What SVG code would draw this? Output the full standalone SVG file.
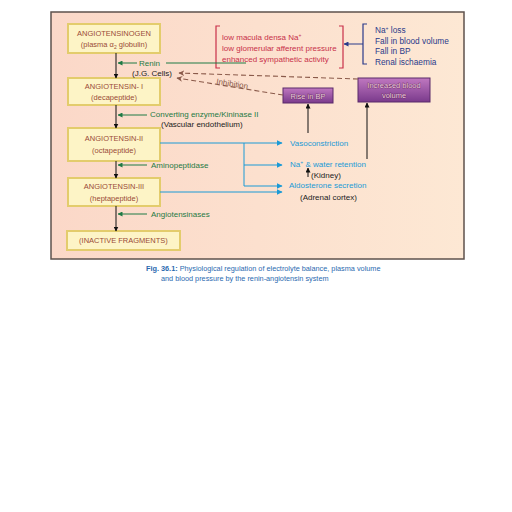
<svg xmlns="http://www.w3.org/2000/svg" width="512" height="512" viewBox="0 0 512 512">
<defs>
<linearGradient id="bg" x1="0" y1="0" x2="1" y2="0">
<stop offset="0" stop-color="#fbd8c8"/>
<stop offset="1" stop-color="#fde8d4"/>
</linearGradient>
<linearGradient id="pur" x1="0" y1="0" x2="0" y2="1">
<stop offset="0" stop-color="#c078c0"/>
<stop offset="1" stop-color="#7a3a8c"/>
</linearGradient>
<marker id="ak" viewBox="0 0 10 10" refX="9" refY="5" markerWidth="5" markerHeight="5" orient="auto-start-reverse" markerUnits="userSpaceOnUse"><path d="M0,0 L10,5 L0,10 z" fill="#111"/></marker>
<marker id="ag" viewBox="0 0 10 10" refX="9" refY="5" markerWidth="5" markerHeight="5" orient="auto" markerUnits="userSpaceOnUse"><path d="M0,0 L10,5 L0,10 z" fill="#1e7a44"/></marker>
<marker id="ab" viewBox="0 0 10 10" refX="9" refY="5" markerWidth="6" markerHeight="6" orient="auto" markerUnits="userSpaceOnUse"><path d="M0,0 L10,5 L0,10 z" fill="#1a9ad6"/></marker>
<marker id="an" viewBox="0 0 10 10" refX="9" refY="5" markerWidth="5" markerHeight="5" orient="auto" markerUnits="userSpaceOnUse"><path d="M0,0 L10,5 L0,10 z" fill="#2a3a8a"/></marker>
<marker id="ad" viewBox="0 0 10 10" refX="9" refY="5" markerWidth="6" markerHeight="6" orient="auto" markerUnits="userSpaceOnUse"><path d="M0,0 L10,5 L0,10 L3,5 z" fill="#8a5a4a"/></marker>
</defs>
<style>
text{font-family:"Liberation Sans",Arial,sans-serif;font-size:8px}
.box{fill:#fdf4c6;stroke:#e3cc6c;stroke-width:2}
.bt{fill:#9a4b38;text-anchor:middle;font-size:7.5px}
.g{fill:#1e7a44}
.k{fill:#222}
.r{fill:#c8304a}
.n{fill:#2a3a8a;font-size:8.3px}
.b{fill:#1a9ad6}
.pb{fill:url(#pur);stroke:#5a2a6a;stroke-width:1}
.pt{fill:#f6d6e6;stroke:#5a1f50;stroke-width:0.7;paint-order:stroke;text-anchor:middle;font-size:7.5px}
.cap{fill:#2a6ab0;font-size:7.3px}
</style>
<rect x="51" y="12" width="413" height="247" fill="url(#bg)" stroke="#5e524c" stroke-width="1.5"/>

<g id="angiotensinogen"><rect class="box" x="68" y="24" width="92" height="29"/><text class="bt" x="114" y="36">ANGIOTENSINOGEN</text><text class="bt" x="114" y="47">(plasma α<tspan font-size="5" dy="2">2</tspan><tspan dy="-2"> globulin)</tspan></text></g>
<g id="angiotensin1"><rect class="box" x="68" y="78" width="92" height="27"/><text class="bt" x="114" y="89">ANGIOTENSIN- I</text><text class="bt" x="114" y="100">(decapeptide)</text></g>
<g id="angiotensin2"><rect class="box" x="68" y="128" width="92" height="33"/><text class="bt" x="114" y="141">ANGIOTENSIN-II</text><text class="bt" x="114" y="153">(octapeptide)</text></g>
<g id="angiotensin3"><rect class="box" x="68" y="178" width="92" height="28"/><text class="bt" x="114" y="189">ANGIOTENSIN-III</text><text class="bt" x="114" y="201">(heptapeptide)</text></g>
<g id="inactive"><rect class="box" x="67" y="231" width="113" height="19"/><text class="bt" x="123.5" y="243">(INACTIVE FRAGMENTS)</text></g>

<g id="rise-bp"><rect class="pb" x="283" y="88" width="50" height="15"/><text class="pt" x="308" y="98.5">Rise in BP</text></g>
<g id="blood-volume"><rect class="pb" x="358" y="78" width="72" height="24"/><text class="pt" x="394" y="88">Increased blood</text><text class="pt" x="394" y="98">volume</text></g>

<g id="stimuli">
<text class="r" x="222" y="40">low macula densa Na<tspan font-size="5" dy="-3">+</tspan></text>
<text class="r" x="222" y="51">low glomerular afferent pressure</text>
<text class="r" x="222" y="62">enhanced sympathetic activity</text>
<path d="M220,26 H216 V68 H220 M339,26 H343 V68 H339" fill="none" stroke="#c8304a" stroke-width="1.2"/>
</g>
<g id="causes">
<text class="n" x="375" y="33">Na<tspan font-size="5" dy="-3">+</tspan><tspan dy="3"> loss</tspan></text>
<text class="n" x="375" y="44">Fall in blood volume</text>
<text class="n" x="375" y="54">Fall in BP</text>
<text class="n" x="375" y="65">Renal ischaemia</text>
<path d="M367,24 H363 V64 H367" fill="none" stroke="#2a3a8a" stroke-width="1.2"/>
</g>

<g id="labels">
<text class="g" x="139" y="66">Renin</text>
<text class="k" x="132" y="76">(J.G. Cells)</text>
<text class="g" x="150" y="117">Converting enzyme/Kininase II</text>
<text class="k" x="161" y="127">(Vascular endothelium)</text>
<text class="g" x="151" y="168">Aminopeptidase</text>
<text class="g" x="151" y="217">Angiotensinases</text>
<text class="b" x="290" y="146">Vasoconstriction</text>
<text class="b" x="290" y="167">Na<tspan font-size="5" dy="-3">+</tspan><tspan dy="3"> &amp; water retention</tspan></text>
<text class="k" x="311" y="178">(Kidney)</text>
<text class="b" x="289" y="188">Aldosterone secretion</text>
<text class="k" x="300" y="200">(Adrenal cortex)</text>
<text fill="#8a5a4a" font-size="7.3" transform="translate(216,84) rotate(9)">Inhibition</text>
</g>

<g id="connectors" fill="none">
<path d="M116,53 V78" stroke="#111" stroke-width="1" marker-end="url(#ak)"/>
<path d="M116,105 V128" stroke="#111" stroke-width="1" marker-end="url(#ak)"/>
<path d="M116,161 V178" stroke="#111" stroke-width="1" marker-end="url(#ak)"/>
<path d="M116,206 V231" stroke="#111" stroke-width="1" marker-end="url(#ak)"/>
<path d="M137,63 H118" stroke="#1e7a44" stroke-width="1" marker-end="url(#ag)"/>
<path d="M166,63 H246" stroke="#1e7a44" stroke-width="1"/>
<path d="M147,115 H118" stroke="#1e7a44" stroke-width="1" marker-end="url(#ag)"/>
<path d="M147,165 H118" stroke="#1e7a44" stroke-width="1" marker-end="url(#ag)"/>
<path d="M147,214 H118" stroke="#1e7a44" stroke-width="1" marker-end="url(#ag)"/>
<path d="M363,44 H344" stroke="#2a3a8a" stroke-width="1" marker-end="url(#an)"/>
<path d="M358,79 L179,73" stroke="#8a5a4a" stroke-width="1.1" stroke-dasharray="5,3" marker-end="url(#ad)"/>
<path d="M283,95 L177,78" stroke="#8a5a4a" stroke-width="1.1" stroke-dasharray="5,3" marker-end="url(#ad)"/>
<path d="M308,133 V104" stroke="#111" stroke-width="1" marker-end="url(#ak)"/>
<path d="M367,159 V103" stroke="#111" stroke-width="1" marker-end="url(#ak)"/>
<path d="M308,177 V168" stroke="#111" stroke-width="1" marker-end="url(#ak)"/>
<path d="M160,143 H282" stroke="#1a9ad6" stroke-width="1" marker-end="url(#ab)"/>
<path d="M244,143 V186 H282" stroke="#1a9ad6" stroke-width="1" marker-end="url(#ab)"/>
<path d="M244,165 H282" stroke="#1a9ad6" stroke-width="1" marker-end="url(#ab)"/>
<path d="M160,192 H282" stroke="#1a9ad6" stroke-width="1" marker-end="url(#ab)"/>
</g>

<g id="caption">
<text class="cap" x="146" y="271"><tspan font-weight="bold">Fig. 36.1:</tspan> Physiological regulation of electrolyte balance, plasma volume</text>
<text class="cap" x="161" y="281">and blood pressure by the renin-angiotensin system</text>
</g>
</svg>
